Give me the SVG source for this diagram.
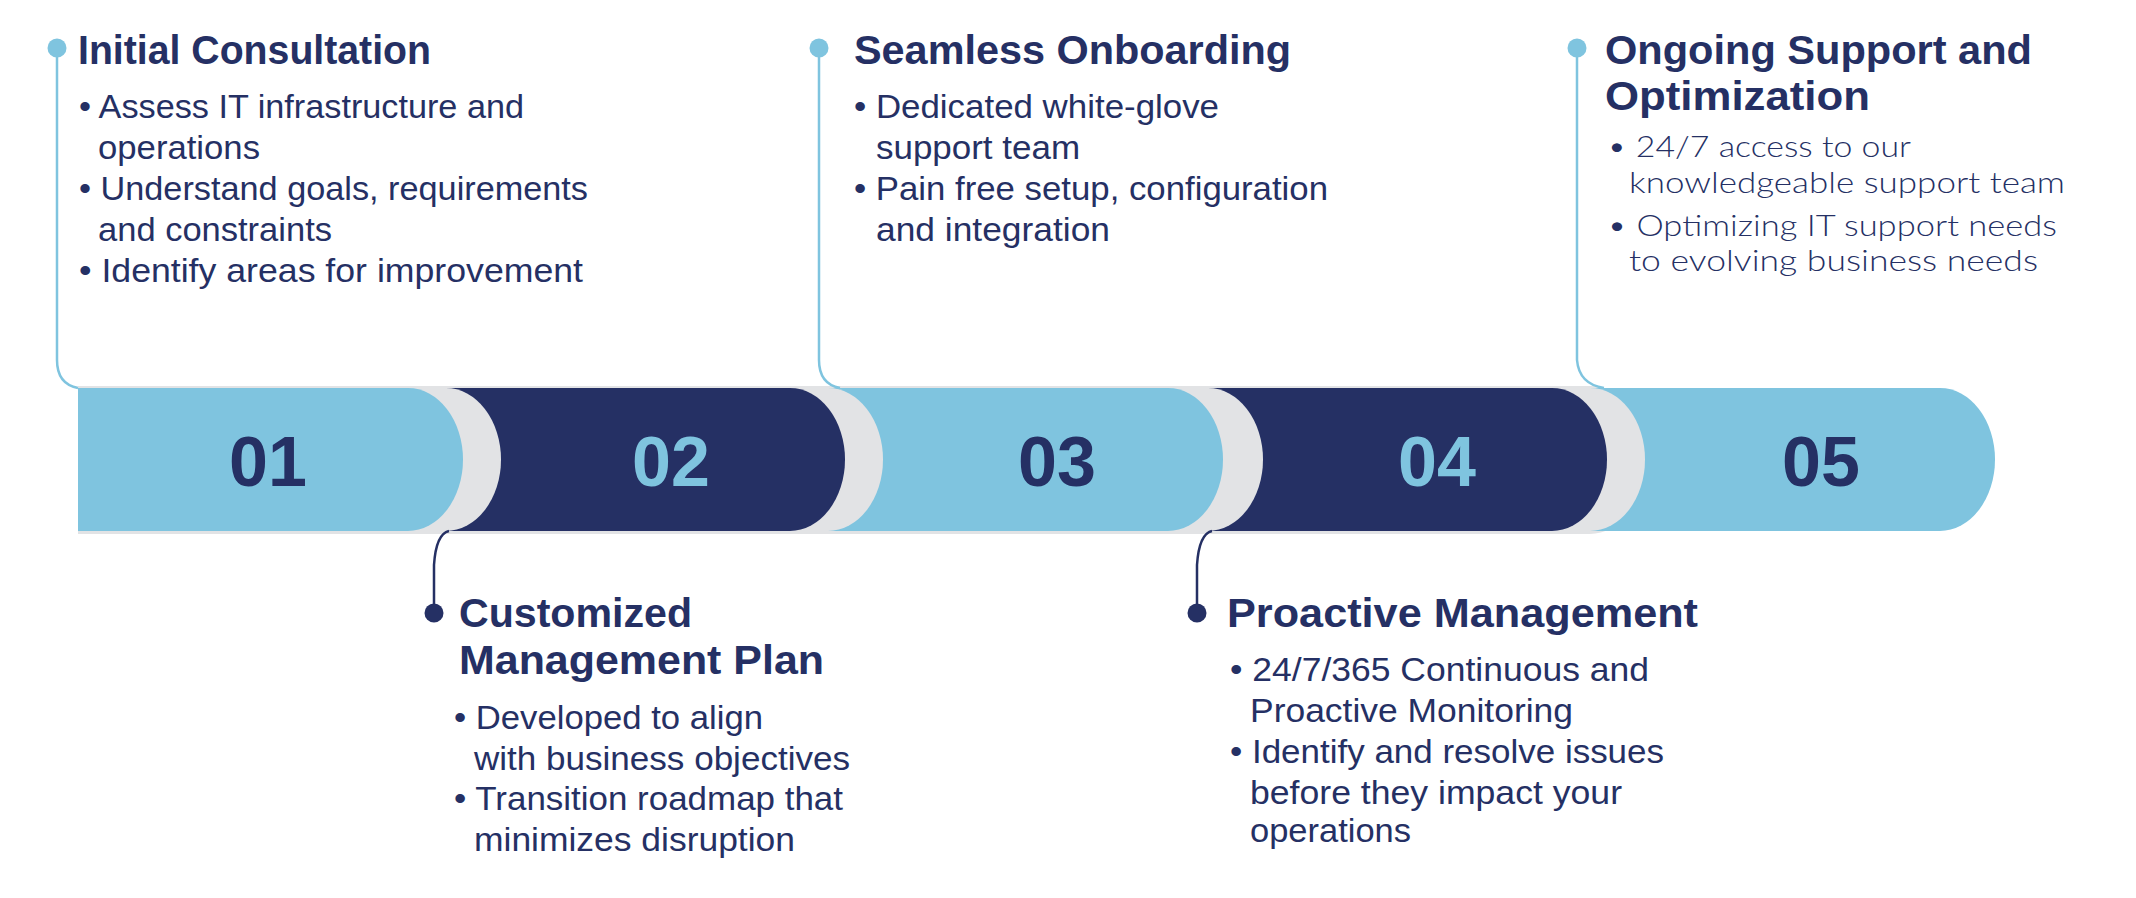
<svg xmlns="http://www.w3.org/2000/svg" width="2136" height="898" viewBox="0 0 2136 898">
<style>
.h{font-family:"Liberation Sans",Arial,sans-serif;font-weight:bold;font-size:40px;fill:#253064}
.b{font-family:"Liberation Sans",Arial,sans-serif;font-size:33px;fill:#253064}
.l{font-family:Lato,"Liberation Sans",sans-serif;font-weight:300;font-size:30px;fill:#253064}
.n{font-family:"Liberation Sans",Arial,sans-serif;font-weight:bold;font-size:70px;text-anchor:middle}
.lc{fill:none;stroke:#7fc4df;stroke-width:2.5}
.dc{fill:none;stroke:#253064;stroke-width:2.5}
</style>
<rect width="2136" height="898" fill="#fff"/>
<g id="band">
<path d="M78,386 H1590 A55 74 0 0 1 1590,534 H78Z" fill="#e2e3e5"/>
<path d="M78,388 H1940 A55 71.5 0 0 1 1940,531 H78Z" fill="#7fc4df"/>
<path d="M78,388 H1590 A55 71.5 0 0 1 1590,531 H78Z" fill="#e2e3e5"/>
<path d="M78,388 H1552 A55 71.5 0 0 1 1552,531 H78Z" fill="#253064"/>
<path d="M78,388 H1208 A55 71.5 0 0 1 1208,531 H78Z" fill="#e2e3e5"/>
<path d="M78,388 H1168 A55 71.5 0 0 1 1168,531 H78Z" fill="#7fc4df"/>
<path d="M78,388 H828 A55 71.5 0 0 1 828,531 H78Z" fill="#e2e3e5"/>
<path d="M78,388 H790 A55 71.5 0 0 1 790,531 H78Z" fill="#253064"/>
<path d="M78,388 H446 A55 71.5 0 0 1 446,531 H78Z" fill="#e2e3e5"/>
<path d="M78,388 H408 A55 71.5 0 0 1 408,531 H78Z" fill="#7fc4df"/>
<text class="n" x="268" y="486" fill="#253064">01</text>
<text class="n" x="671" y="486" fill="#7fc4df">02</text>
<text class="n" x="1057" y="486" fill="#253064">03</text>
<text class="n" x="1437" y="486" fill="#7fc4df">04</text>
<text class="n" x="1821" y="486" fill="#253064">05</text>
</g>
<g id="connectors">
<circle cx="57" cy="48" r="9.5" fill="#7fc4df"/>
<path class="lc" d="M57,48 V360 Q57,384 78,388"/>
<circle cx="819" cy="48" r="9.5" fill="#7fc4df"/>
<path class="lc" d="M819,48 V360 Q819,384 840,388"/>
<circle cx="1577" cy="48" r="9.5" fill="#7fc4df"/>
<path class="lc" d="M1577,48 V360 Q1579,384 1604,388"/>
<path class="dc" d="M449,531 Q436,534 434,565 V613"/>
<circle cx="434" cy="613" r="9.5" fill="#253064"/>
<path class="dc" d="M1212,531 Q1199,534 1197,565 V613"/>
<circle cx="1197" cy="613" r="9.5" fill="#253064"/>
</g>
<g id="step1">
<text class="h" x="78" y="64" textLength="353" lengthAdjust="spacingAndGlyphs">Initial Consultation</text>
<text class="b" x="79" y="118" textLength="445" lengthAdjust="spacingAndGlyphs">• Assess IT infrastructure and</text>
<text class="b" x="98" y="159" textLength="162" lengthAdjust="spacingAndGlyphs">operations</text>
<text class="b" x="79" y="200" textLength="509" lengthAdjust="spacingAndGlyphs">• Understand goals, requirements</text>
<text class="b" x="98" y="241" textLength="234" lengthAdjust="spacingAndGlyphs">and constraints</text>
<text class="b" x="79" y="282" textLength="504" lengthAdjust="spacingAndGlyphs">• Identify areas for improvement</text>
</g>
<g id="step2">
<text class="h" x="459" y="627" textLength="233" lengthAdjust="spacingAndGlyphs">Customized</text>
<text class="h" x="459" y="674" textLength="365" lengthAdjust="spacingAndGlyphs">Management Plan</text>
<text class="b" x="454" y="729" textLength="309" lengthAdjust="spacingAndGlyphs">• Developed to align</text>
<text class="b" x="474" y="770" textLength="376" lengthAdjust="spacingAndGlyphs">with business objectives</text>
<text class="b" x="454" y="810" textLength="389" lengthAdjust="spacingAndGlyphs">• Transition roadmap that</text>
<text class="b" x="474" y="851" textLength="321" lengthAdjust="spacingAndGlyphs">minimizes disruption</text>
</g>
<g id="step3">
<text class="h" x="854" y="64" textLength="437" lengthAdjust="spacingAndGlyphs">Seamless Onboarding</text>
<text class="b" x="854" y="118" textLength="365" lengthAdjust="spacingAndGlyphs">• Dedicated white-glove</text>
<text class="b" x="876" y="159" textLength="204" lengthAdjust="spacingAndGlyphs">support team</text>
<text class="b" x="854" y="200" textLength="474" lengthAdjust="spacingAndGlyphs">• Pain free setup, configuration</text>
<text class="b" x="876" y="241" textLength="234" lengthAdjust="spacingAndGlyphs">and integration</text>
</g>
<g id="step4">
<text class="h" x="1227" y="627" textLength="471" lengthAdjust="spacingAndGlyphs">Proactive Management</text>
<text class="b" x="1230" y="681" textLength="419" lengthAdjust="spacingAndGlyphs">• 24/7/365 Continuous and</text>
<text class="b" x="1250" y="722" textLength="323" lengthAdjust="spacingAndGlyphs">Proactive Monitoring</text>
<text class="b" x="1230" y="763" textLength="434" lengthAdjust="spacingAndGlyphs">• Identify and resolve issues</text>
<text class="b" x="1250" y="804" textLength="372" lengthAdjust="spacingAndGlyphs">before they impact your</text>
<text class="b" x="1250" y="842" textLength="161" lengthAdjust="spacingAndGlyphs">operations</text>
</g>
<g id="step5">
<text class="h" x="1605" y="64" textLength="427" lengthAdjust="spacingAndGlyphs">Ongoing Support and</text>
<text class="h" x="1605" y="110" textLength="265" lengthAdjust="spacingAndGlyphs">Optimization</text>
<text class="l" x="1607" y="157" textLength="304" lengthAdjust="spacingAndGlyphs">• 24/7 access to our</text>
<text class="l" x="1629" y="193" textLength="436" lengthAdjust="spacingAndGlyphs">knowledgeable support team</text>
<text class="l" x="1607" y="236" textLength="450" lengthAdjust="spacingAndGlyphs">• Optimizing IT support needs</text>
<text class="l" x="1629" y="271" textLength="409" lengthAdjust="spacingAndGlyphs">to evolving business needs</text>
</g>
</svg>
